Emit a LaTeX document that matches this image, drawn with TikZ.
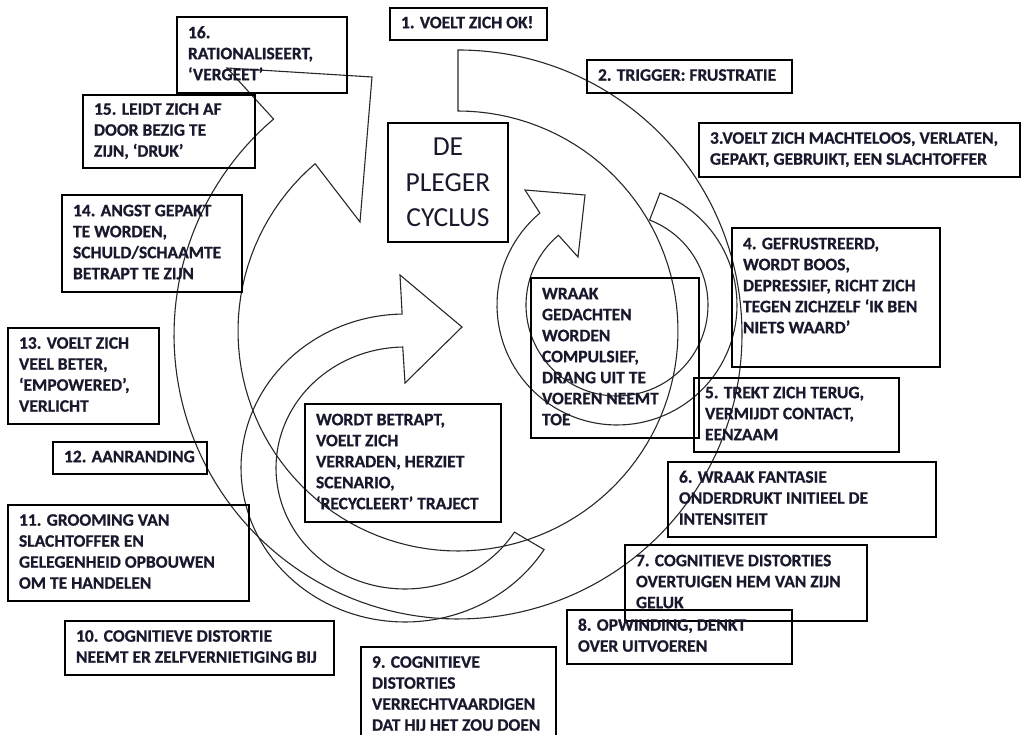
\documentclass[tikz,border=0pt]{standalone}
\usepackage{fontspec}
\setmainfont{Carlito}[BoldFont={Carlito Bold},BoldFeatures={FakeBold=0.7}]
\definecolor{txt}{RGB}{25,25,45}
\definecolor{ln}{RGB}{40,40,40}
\newcommand\bxt[2]{\makebox[#1][l]{\begin{tabular}{@{}l@{}}#2\end{tabular}}}
\begin{document}
\begin{tikzpicture}[x=1pt,y=-1pt,
  lbl/.style={draw=black, line width=1.5pt, inner xsep=11pt, inner ysep=0pt, text=txt,
    font=\fontsize{17.5}{21}\selectfont\bfseries, rectangle},
  arr/.style={draw=ln, line width=1.1pt, line join=miter}]
\useasboundingbox (0,0) rectangle (1028,735);
\clip (0,0) rectangle (1028,735);
\fill[white] (0,0) rectangle (1028,735);

% big outer cycle arrow
\draw[arr] (458,50) .. controls (615,50) and (742,175) .. (742,335)
  -- plot[domain=0:229.5,samples=120] ({458+284*cos(\x)},{335+284*sin(\x)})
  -- (227,68) -- (372,77) -- (360,222)
  -- plot[domain=229.5:-90,samples=120] ({458+220*cos(\x)},{331+220*sin(\x)})
  -- cycle;
% lower-left arrow
\draw[arr] plot[domain=32:269,samples=100] ({405+164*cos(\x)},{468+154*sin(\x)})
  -- (400,275) -- (462,327) -- (405,383)
  -- plot[domain=269:32,samples=100] ({405+129*cos(\x)},{468+121*sin(\x)}) -- cycle;
% inner ring arrow
\draw[arr] plot[domain=-69:230,samples=100] ({617+120*cos(\x)},{305+120*sin(\x)})
  -- (525,190) -- (585,195) -- (578,257)
  -- plot[domain=230:-69,samples=100] ({617+91*cos(\x)},{305+91*sin(\x)}) -- cycle;

\node[lbl, minimum width=157pt, minimum height=32pt] (b1) at (468.5,24) {\bxt{135pt}{1. VOELT ZICH OK!}};
\node[lbl, minimum width=205pt, minimum height=33pt] (b2) at (689.5,76.5) {\bxt{183pt}{2. TRIGGER: FRUSTRATIE}};
\node[lbl, minimum width=321pt, minimum height=54pt] (b3) at (859.5,150) {\bxt{299pt}{3.VOELT ZICH MACHTELOOS, VERLATEN,\\GEPAKT, GEBRUIKT, EEN SLACHTOFFER}};
\node[lbl, minimum width=208pt, minimum height=139pt] (b4) at (836,297.5) {\bxt{186pt}{4. GEFRUSTREERD,\\WORDT BOOS,\\DEPRESSIEF, RICHT ZICH\\TEGEN ZICHZELF ‘IK BEN\\NIETS WAARD’\\ \mbox{}}};
\node[lbl, minimum width=205pt, minimum height=74pt] (b5) at (796.5,415) {\bxt{183pt}{5. TREKT ZICH TERUG,\\VERMIJDT CONTACT,\\EENZAAM}};
\node[lbl, minimum width=268pt, minimum height=75pt] (b6) at (802,499.5) {\bxt{246pt}{6. WRAAK FANTASIE\\ONDERDRUKT INITIEEL DE\\INTENSITEIT}};
\node[lbl, minimum width=242pt, minimum height=76pt] (b7) at (746,583) {\bxt{220pt}{7. COGNITIEVE DISTORTIES\\OVERTUIGEN HEM VAN ZIJN\\GELUK}};
\node[lbl, minimum width=225pt, minimum height=54pt] (b8) at (679.5,637) {\bxt{203pt}{8. OPWINDING, DENKT\\OVER UITVOEREN}};
\node[lbl, minimum width=195pt, minimum height=96pt] (b9) at (458.5,695) {\bxt{173pt}{9. COGNITIEVE\\DISTORTIES\\VERRECHTVAARDIGEN\\DAT HIJ HET ZOU DOEN}};
\node[lbl, minimum width=269pt, minimum height=54pt] (b10) at (199.5,648) {\bxt{247pt}{10. COGNITIEVE DISTORTIE\\NEEMT ER ZELFVERNIETIGING BIJ}};
\node[lbl, minimum width=241pt, minimum height=96pt] (b11) at (128.5,553) {\bxt{219pt}{11. GROOMING VAN\\SLACHTOFFER EN\\GELEGENHEID OPBOUWEN\\OM TE HANDELEN}};
\node[lbl, minimum width=154pt, minimum height=32pt] (b12) at (130,458) {\bxt{132pt}{12. AANRANDING}};
\node[lbl, minimum width=151pt, minimum height=96pt] (b13) at (83.5,376) {\bxt{129pt}{13. VOELT ZICH\\VEEL BETER,\\‘EMPOWERED’,\\VERLICHT}};
\node[lbl, minimum width=180pt, minimum height=97pt] (b14) at (152,243.5) {\bxt{158pt}{14. ANGST GEPAKT\\TE WORDEN,\\SCHULD/SCHAAMTE\\BETRAPT TE ZIJN}};
\node[lbl, minimum width=172pt, minimum height=73pt] (b15) at (169,131.5) {\bxt{150pt}{15. LEIDT ZICH AF\\DOOR BEZIG TE\\ZIJN, ‘DRUK’}};
\node[lbl, minimum width=170pt, minimum height=76pt] (b16) at (262,55) {\bxt{148pt}{16.\\RATIONALISEERT,\\‘VERGEET’}};
\node[lbl, minimum width=120pt, minimum height=119pt, align=center, inner xsep=0pt,
  font=\fontsize{27.5}{35.5}\selectfont] (title) at (448,182.5) {DE\\PLEGER\\CYCLUS};
\node[lbl, minimum width=168pt, minimum height=160pt] (wraak) at (615,358) {\bxt{146pt}{WRAAK\\GEDACHTEN\\WORDEN\\COMPULSIEF,\\DRANG UIT TE\\VOEREN NEEMT\\TOE}};
\node[lbl, minimum width=196pt, minimum height=118pt] (betrapt) at (403,463) {\bxt{174pt}{WORDT BETRAPT,\\VOELT ZICH\\VERRADEN, HERZIET\\SCENARIO,\\‘RECYCLEERT’ TRAJECT}};
\end{tikzpicture}
\end{document}
